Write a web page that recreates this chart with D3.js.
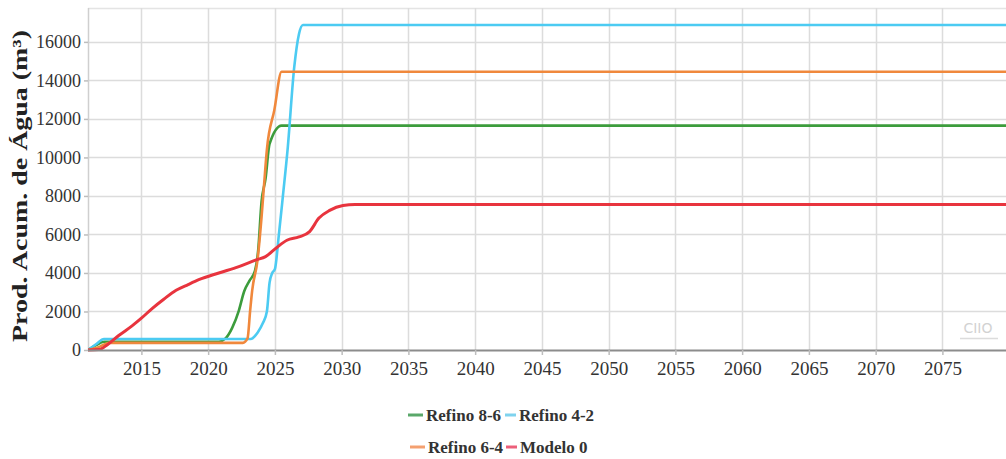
<!DOCTYPE html>
<html>
<head>
<meta charset="utf-8">
<script src="https://cdn.jsdelivr.net/npm/d3@7"></script>
<style>
  html, body { margin: 0; padding: 0; background: #ffffff; }
  svg { display: block; }
</style>
</head>
<body>
<svg id="chart" width="1006" height="459"></svg>
<script>
// Cumulative water production per grid refinement, [year, m³]
const refino86 = [
  [2011.0, 0], [2011.6, 250], [2012.2, 430], [2020.8, 430], [2021.3, 600], [2021.8, 1150],
  [2022.3, 2050], [2022.7, 3050], [2023.1, 3600], [2023.5, 4100], [2023.75, 5200],
  [2024.0, 7700], [2024.3, 8900], [2024.6, 10700], [2025.5, 11650], [2080, 11650]
];
const refino42 = [
  [2011.0, 0], [2011.6, 300], [2012.2, 570], [2023.2, 570], [2023.7, 900], [2024.1, 1400],
  [2024.4, 2000], [2024.6, 3500], [2024.8, 4000], [2025.0, 4200], [2025.3, 6000],
  [2025.6, 8000], [2025.95, 10400], [2026.45, 14700], [2026.8, 16400], [2027.1, 16880], [2080, 16880]
];
const refino64 = [
  [2011.0, 0], [2011.8, 150], [2012.6, 370], [2022.6, 370], [2022.95, 600], [2023.15, 2080],
  [2023.3, 3100], [2023.7, 4680], [2024.0, 6900], [2024.2, 8680], [2024.4, 10400],
  [2024.96, 12470], [2025.5, 14450], [2080, 14450]
];
const modelo0 = [
  [2011.0, 0], [2011.8, 20], [2012.5, 300], [2013.3, 750], [2014.3, 1250], [2015.0, 1650],
  [2015.8, 2150], [2016.7, 2650], [2017.6, 3100], [2018.5, 3400], [2019.3, 3650],
  [2020.8, 4000], [2022.3, 4330], [2023.6, 4680], [2024.3, 4850], [2025.1, 5300],
  [2025.9, 5700], [2026.8, 5870], [2027.6, 6150], [2028.3, 6850], [2029.1, 7250],
  [2030.1, 7500], [2031.0, 7550], [2080, 7550]
];

const seriesNames = ["Refino 8-6", "Refino 4-2", "Refino 6-4", "Modelo 0"];
const seriesColors = ["#3c9c3c", "#4ccbf2", "#f0883c", "#e8343e"];
const legendColors = ["#5aa86a", "#7fd3ee", "#f4a070", "#ec5f7a"];
const xTicks = [2015, 2020, 2025, 2030, 2035, 2040, 2045, 2050, 2055, 2060, 2065, 2070, 2075];
const yTicks = [0, 2000, 4000, 6000, 8000, 10000, 12000, 14000, 16000];
const yTitle = "Prod. Acum. de Água (m³)";

const series = [refino86, refino42, refino64, modelo0];

const svg = d3.select("#chart");
const plot = { left: 88, top: 8, right: 1006, bottom: 350 };

const x = d3.scaleLinear().domain([2011, 2080]).range([plot.left, plot.left + 69 * 13.35]);
const y = d3.scaleLinear().domain([0, 17760]).range([plot.bottom, plot.top]);

const serif = "Liberation Serif, DejaVu Serif, serif";

svg.append("defs").append("clipPath").attr("id", "plotClip")
  .append("rect")
  .attr("x", plot.left).attr("y", plot.top - 4)
  .attr("width", plot.right - plot.left).attr("height", plot.bottom - plot.top + 6);

// Grid
const grid = svg.append("g").attr("clip-path", "url(#plotClip)");
grid.selectAll("line.h").data(yTicks.filter(d => d > 0)).join("line")
  .attr("x1", plot.left).attr("x2", plot.right)
  .attr("y1", d => Math.round(y(d)) + 0.5).attr("y2", d => Math.round(y(d)) + 0.5)
  .attr("stroke", "#dcdcdc").attr("stroke-width", 1.5);
grid.append("line")
  .attr("x1", plot.left).attr("x2", plot.right)
  .attr("y1", plot.top + 0.5).attr("y2", plot.top + 0.5)
  .attr("stroke", "#e4e4e4").attr("stroke-width", 1.5);
grid.selectAll("line.v").data(xTicks).join("line")
  .attr("x1", d => Math.round(x(d)) + 0.5).attr("x2", d => Math.round(x(d)) + 0.5)
  .attr("y1", plot.top).attr("y2", plot.bottom)
  .attr("stroke", "#dcdcdc").attr("stroke-width", 1.5);

// Left axis line
svg.append("line")
  .attr("x1", plot.left + 0.5).attr("x2", plot.left + 0.5)
  .attr("y1", plot.top).attr("y2", plot.bottom)
  .attr("stroke", "#cfcfcf").attr("stroke-width", 1.5);

// Series lines
const line = d3.line().x(d => x(d[0])).y(d => y(d[1])).curve(d3.curveMonotoneX);
const lines = svg.append("g").attr("clip-path", "url(#plotClip)");
series.forEach((s, i) => {
  lines.append("path")
    .datum(s)
    .attr("fill", "none")
    .attr("stroke", seriesColors[i])
    .attr("stroke-width", i === 3 ? 3 : 2.6)
    .attr("stroke-linejoin", "round")
    .attr("d", line);
});

// Bottom axis
const xAxis = d3.axisBottom(x).tickValues(xTicks).tickFormat(d3.format("d")).tickSize(5).tickSizeOuter(0);
const gx = svg.append("g").attr("transform", `translate(0,${plot.bottom})`).call(xAxis)
  .attr("font-family", serif).attr("font-size", 19);
gx.select(".domain").attr("stroke", "#8c8c8c").attr("stroke-width", 2)
  .attr("d", `M${plot.left},0.5H${plot.right}`);
gx.selectAll(".tick line").attr("stroke", "#bdbdbd").attr("stroke-width", 1.5);
gx.selectAll(".tick text")
  .attr("y", 12).attr("dy", "0.71em")
  .attr("fill", "#333");

// Left axis labels
const yAxis = d3.axisLeft(y).tickValues(yTicks).tickFormat(d3.format("d")).tickSize(4).tickSizeOuter(0);
const gy = svg.append("g").attr("transform", `translate(${plot.left},0)`).call(yAxis)
  .attr("font-family", serif).attr("font-size", 18);
gy.select(".domain").remove();
gy.selectAll(".tick line").attr("stroke", "#bdbdbd").attr("stroke-width", 1.5);
gy.selectAll(".tick text")
  .attr("x", -7)
  .attr("fill", "#333");

// Axis title
svg.append("text")
  .attr("transform", `translate(27,${(plot.top + plot.bottom) / 2 + 7}) rotate(-90)`)
  .attr("text-anchor", "middle")
  .attr("fill", "#222")
  .attr("font-family", serif).attr("font-weight", "bold").attr("font-size", 21)
  .attr("textLength", 312).attr("lengthAdjust", "spacingAndGlyphs")
  .text(yTitle);

// Credits mark
svg.append("text")
  .attr("x", 978).attr("y", 333)
  .attr("text-anchor", "middle")
  .attr("fill", "#d2d2d2")
  .attr("font-family", "DejaVu Sans, sans-serif").attr("font-size", 14)
  .text("CIIO");
svg.append("line")
  .attr("x1", 960).attr("x2", 998).attr("y1", 338.5).attr("y2", 338.5)
  .attr("stroke", "#dcdcdc").attr("stroke-width", 1.5);

// Legend (two rows of two)
const legendPos = [[408, 415], [505, 415], [410, 447], [506, 447]];
const legend = svg.append("g");
seriesNames.forEach((name, i) => {
  const [lx, ly] = legendPos[i];
  const w = i % 2 === 0 ? 15 : 11;
  legend.append("line")
    .attr("x1", lx).attr("x2", lx + w)
    .attr("y1", ly).attr("y2", ly)
    .attr("stroke", legendColors[i]).attr("stroke-width", 3);
  legend.append("text")
    .attr("x", lx + w + 3).attr("y", ly).attr("dy", "0.35em")
    .attr("fill", "#333")
    .attr("font-family", serif).attr("font-weight", "bold").attr("font-size", 17)
    .text(name);
});
</script>
</body>
</html>
